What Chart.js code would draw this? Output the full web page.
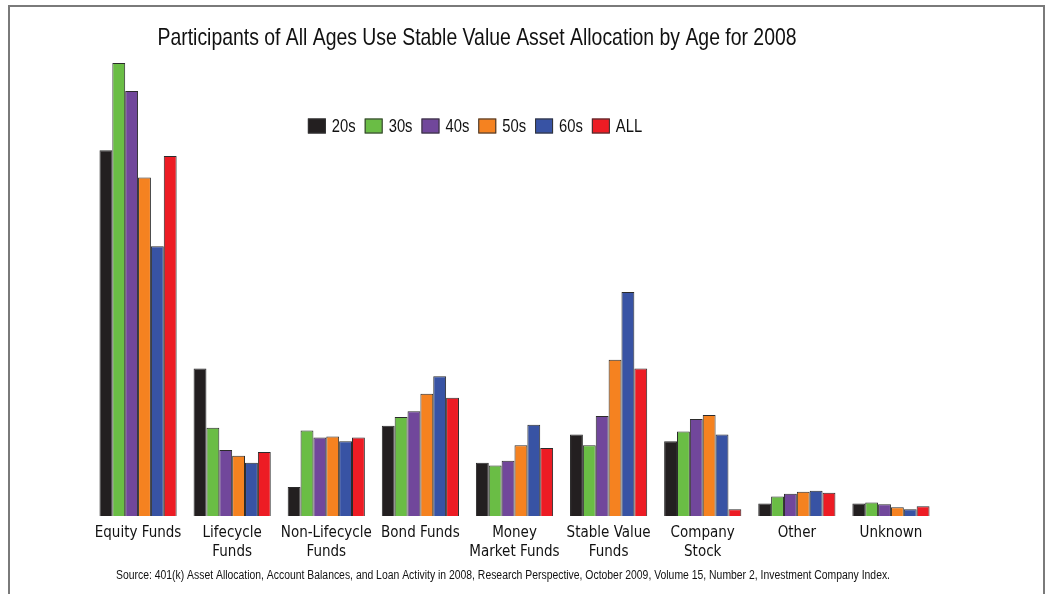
<!DOCTYPE html>
<html>
<head>
<meta charset="utf-8">
<title>Stable Value Asset Allocation by Age, 2008</title>
<script src="https://cdn.jsdelivr.net/npm/chart.js@4.4.1/dist/chart.umd.min.js"></script>
<style>
  html, body { margin: 0; padding: 0; background: #fff; }
  #wrap { position: relative; width: 1047px; height: 594px; overflow: hidden; }
  #frame { position: absolute; left: 8px; top: 5px; width: 1037px; height: 620px; border: 2px solid #7a7a7a; box-sizing: border-box; }
  canvas { position: absolute; left: 0; top: 0; }
</style>
</head>
<body>
<div id="wrap">
  <div id="frame"></div>
  <canvas id="allocation" width="1047" height="594"></canvas>
</div>
<script>
// categories along the x axis
const categories = [
  'Equity Funds',
  ['Lifecycle', 'Funds'],
  ['Non-Lifecycle', 'Funds'],
  'Bond Funds',
  ['Money', 'Market Funds'],
  ['Stable Value', 'Funds'],
  ['Company', 'Stock'],
  'Other',
  'Unknown'
];

const ageGroups = ['20s', '30s', '40s', '50s', '60s', 'ALL'];

// percent of assets
const share20s = [37.7, 15.2, 3.0, 9.3, 5.5, 8.4, 7.7, 1.3, 1.3];
const share30s = [46.7, 9.1, 8.8, 10.2, 5.2, 7.3, 8.7, 2.0, 1.4];
const share40s = [43.8, 6.8, 8.1, 10.8, 5.7, 10.3, 10.0, 2.3, 1.2];
const share50s = [34.9, 6.2, 8.2, 12.6, 7.3, 16.1, 10.4, 2.5, 0.9];
const share60s = [27.8, 5.5, 7.7, 14.4, 9.4, 23.1, 8.4, 2.6, 0.7];
const shareAll = [37.1, 6.6, 8.1, 12.2, 7.0, 15.2, 0.7, 2.4, 1.0];

const seriesValues = [share20s, share30s, share40s, share50s, share60s, shareAll];
const seriesColors = ['#231f20', '#6abd45', '#71479b', '#f58220', '#3853a4', '#ed1c24'];

const titleText = 'Participants of All Ages Use Stable Value Asset Allocation by Age for 2008';
const sourceText = 'Source: 401(k) Asset Allocation, Account Balances, and Loan Activity in 2008, Research Perspective, October 2009, Volume 15, Number 2, Investment Company Index.';

const TICK_FONT = '"Liberation Sans Narrow", "DejaVu Sans Condensed", "Roboto", sans-serif';
const TEXT_FONT = '"Liberation Sans", Arial, sans-serif';

// draw text squeezed horizontally (mimics a condensed face)
function squeezedText(ctx, text, cx, y, size, sx) {
  ctx.save();
  ctx.font = size + 'px ' + TEXT_FONT;
  ctx.translate(cx, y);
  ctx.scale(sx, 1);
  ctx.fillText(text, 0, 0);
  ctx.restore();
}

function squeezeFor(ctx, text, size, width) {
  ctx.font = size + 'px ' + TEXT_FONT;
  return width / ctx.measureText(text).width;
}

// title, legend inside the plot, and source line
const decor = {
  id: 'decor',
  afterDraw(chart) {
    const ctx = chart.ctx;
    ctx.save();
    ctx.fillStyle = '#111';
    ctx.textAlign = 'center';
    ctx.textBaseline = 'alphabetic';

    squeezedText(ctx, titleText, 477, 45, 24, squeezeFor(ctx, titleText, 24, 639));
    squeezedText(ctx, sourceText, 503, 579, 12, squeezeFor(ctx, sourceText, 12, 774));

    // legend
    const size = 18, sx = 0.82;
    const boxW = 18, boxH = 15, gap = 6, itemGap = 9;
    ctx.font = size + 'px ' + TEXT_FONT;
    const items = chart.data.datasets.map(ds => {
      const tw = ctx.measureText(ds.label).width * sx;
      return { label: ds.label, color: ds.backgroundColor, tw, w: boxW + gap + tw };
    });
    const total = items.reduce((a, it) => a + it.w, 0) + itemGap * (items.length - 1);
    let x = 475 - total / 2;
    const y = 126;
    ctx.textBaseline = 'middle';
    items.forEach(it => {
      ctx.fillStyle = it.color;
      ctx.fillRect(x, y - boxH / 2, boxW, boxH);
      ctx.strokeStyle = '#333';
      ctx.lineWidth = 1;
      ctx.strokeRect(x + 0.5, y - boxH / 2 + 0.5, boxW - 1, boxH - 1);
      ctx.fillStyle = '#111';
      squeezedText(ctx, it.label, x + boxW + gap + it.tw / 2, y + 1, size, sx);
      x += it.w + itemGap;
    });
    ctx.restore();
  }
};

new Chart(document.getElementById('allocation'), {
  type: 'bar',
  data: {
    labels: categories,
    datasets: ageGroups.map((g, i) => ({
      label: g,
      data: seriesValues[i],
      backgroundColor: seriesColors[i],
      borderColor: '#2b2b2b',
      borderWidth: 1,
      categoryPercentage: 0.82,
      barPercentage: 1.0
    }))
  },
  options: {
    responsive: false,
    animation: false,
    layout: { padding: { left: 91, right: 109, top: 60, bottom: 0 } },
    plugins: {
      legend: { display: false },
      title: { display: false },
      tooltip: { enabled: false }
    },
    scales: {
      x: {
        grid: { display: false, drawTicks: false },
        border: { display: false },
        ticks: {
          color: '#111',
          padding: 8,
          maxRotation: 0,
          autoSkip: false,
          font: { family: TICK_FONT, size: 15, lineHeight: 1.27 }
        },
        afterFit(scale) { scale.height = 78; }
      },
      y: {
        display: false,
        min: 0,
        max: 47
      }
    }
  },
  plugins: [decor]
});
</script>
</body>
</html>
